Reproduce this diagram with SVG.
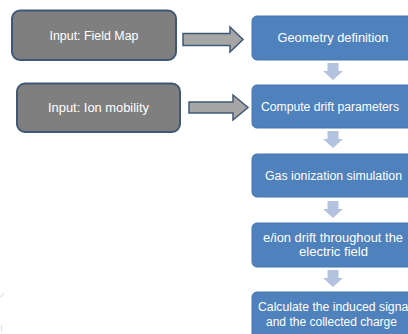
<svg xmlns="http://www.w3.org/2000/svg" width="408" height="334" viewBox="0 0 408 334">
  <defs>
    <style>
      .input rect { fill: #7f7f7f; stroke: #3f5878; stroke-width: 2; }
      .step rect { fill: #4f81bd; stroke: #4677b3; stroke-width: 1; }
      .label { font-family: "Liberation Sans", Arial, sans-serif; font-size: 12px; fill: #ffffff; text-anchor: middle; dominant-baseline: central; }
      .feed { fill: #a6a6a6; stroke: #3f5878; stroke-width: 1.5; stroke-linejoin: miter; }
      .flow { fill: #b3c3df; stroke: none; }
      .trace { fill: none; stroke: #e4e4e4; stroke-width: 1.2; }
    </style>
  </defs>
  <rect width="408" height="334" fill="#ffffff"/>

  <!-- input nodes -->
  <g id="input-field-map" class="input">
    <rect x="12" y="10.5" width="164" height="49.5" rx="8"/>
    <text class="label" x="94" y="36" textLength="89" lengthAdjust="spacingAndGlyphs">Input: Field Map</text>
  </g>
  <g id="input-ion-mobility" class="input">
    <rect x="17" y="83.5" width="163" height="48.5" rx="8"/>
    <text class="label" x="98.5" y="108" textLength="101" lengthAdjust="spacingAndGlyphs">Input: Ion mobility</text>
  </g>

  <!-- processing steps -->
  <g id="step-geometry" class="step">
    <rect x="252" y="16" width="162" height="44" rx="5"/>
    <text class="label" x="333" y="38" textLength="111" lengthAdjust="spacingAndGlyphs">Geometry definition</text>
  </g>
  <g id="step-drift-parameters" class="step">
    <rect x="252" y="85" width="162" height="43" rx="5"/>
    <text class="label" x="330" y="107" textLength="138" lengthAdjust="spacingAndGlyphs">Compute drift parameters</text>
  </g>
  <g id="step-gas-ionization" class="step">
    <rect x="252" y="154" width="162" height="43" rx="5"/>
    <text class="label" x="333.5" y="176" textLength="137" lengthAdjust="spacingAndGlyphs">Gas ionization simulation</text>
  </g>
  <g id="step-drift" class="step">
    <rect x="252" y="223" width="162" height="44" rx="5"/>
    <text class="label" x="333" y="238" textLength="140" lengthAdjust="spacingAndGlyphs">e/ion drift throughout the</text>
    <text class="label" x="333.5" y="252" textLength="69" lengthAdjust="spacingAndGlyphs">electric field</text>
  </g>
  <g id="step-signal" class="step">
    <rect x="252" y="292" width="162" height="50" rx="5"/>
    <text class="label" x="334.5" y="307" textLength="153" lengthAdjust="spacingAndGlyphs">Calculate the induced signal</text>
    <text class="label" x="331.5" y="322" textLength="131" lengthAdjust="spacingAndGlyphs">and the collected charge</text>
  </g>

  <!-- connectors -->
  <g id="connectors">
    <polygon class="feed" points="183,33.5 230,33.5 230,27 243,39.5 230,52 230,45.5 183,45.5"/>
    <polygon class="feed" points="189,102 233,102 233,95 248,107.5 233,120 233,113 189,113"/>
    <polygon class="flow" points="327.5,63 338.5,63 338.5,71 343,71 333,80 323,71 327.5,71"/>
    <polygon class="flow" points="327.5,131 338.5,131 338.5,139 343,139 333,148 323,139 327.5,139"/>
    <polygon class="flow" points="327.5,201 338.5,201 338.5,209 343,209 333,218 323,209 327.5,209"/>
    <polygon class="flow" points="327.5,270 338.5,270 338.5,278 343,278 333,287 323,278 327.5,278"/>
  </g>

  <!-- faint traces at the lower left edge -->
  <path class="trace" d="M0,297 L4,293"/>
  <path class="trace" d="M1.5,325 L1.5,332"/>
</svg>
